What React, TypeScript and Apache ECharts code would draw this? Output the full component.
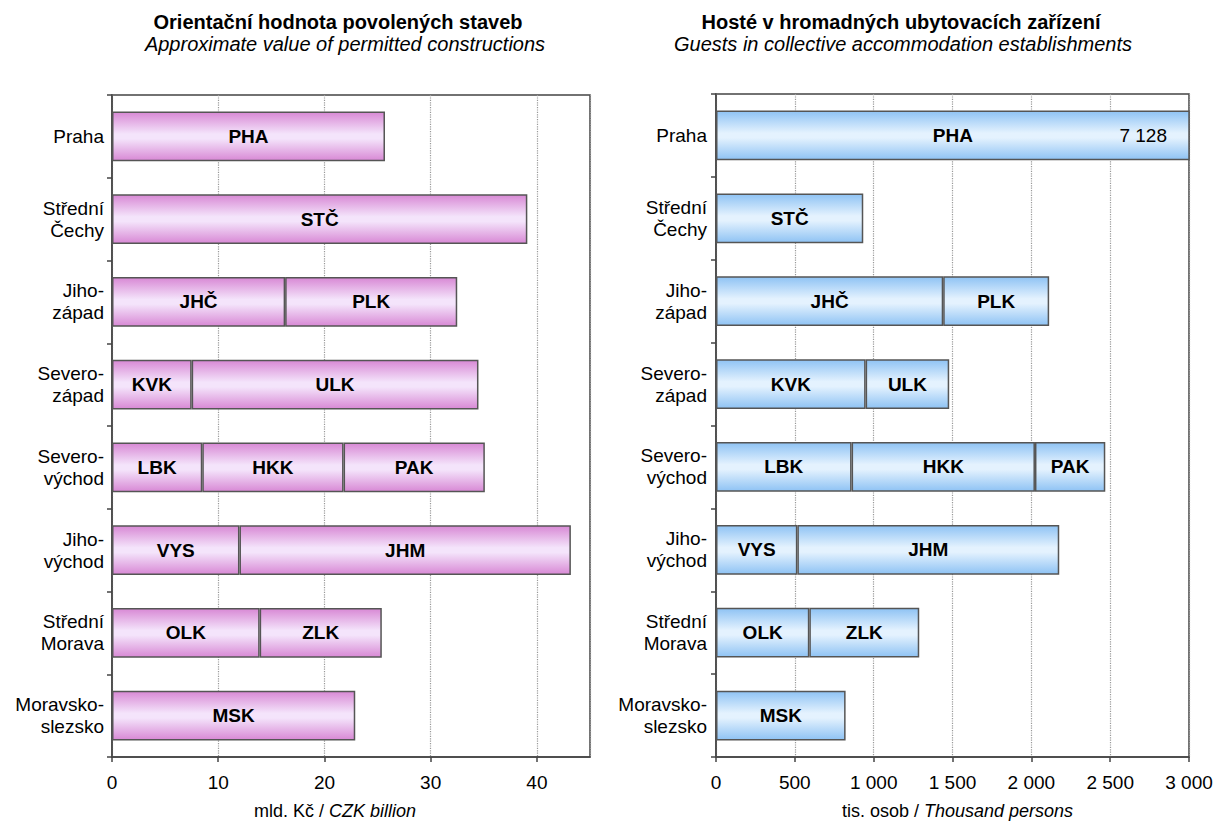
import React, { useEffect, useRef } from 'react';
import * as echarts from 'echarts';

const regions = [
  'Praha',
  'Střední\nČechy',
  'Jiho-\nzápad',
  'Severo-\nzápad',
  'Severo-\nvýchod',
  'Jiho-\nvýchod',
  'Střední\nMorava',
  'Moravsko-\nslezsko',
];

const codes1 = ['PHA', 'STČ', 'JHČ', 'KVK', 'LBK', 'VYS', 'OLK', 'MSK'];
const codes2 = ['', '', 'PLK', 'ULK', 'HKK', 'JHM', 'ZLK', ''];
const codes3 = ['', '', '', '', 'PAK', '', '', ''];

// Orientační hodnota povolených staveb (mld. Kč)
const build1 = [25.7, 39.1, 16.3, 7.5, 8.5, 12.0, 13.9, 22.9];
const build2 = [null, null, 16.2, 27.0, 13.3, 31.2, 11.5, null];
const build3 = [null, null, null, null, 13.3, null, null, null];

// Hosté v HUZ (tis. osob)
const guests1 = [7128, 934, 1441, 949, 860, 516, 592, 822];
const guests2 = [null, null, 672, 530, 1163, 1661, 697, null];
const guests3 = [null, null, null, null, 446, null, null, null];

const leftTicks = { min: 0, max: 45, interval: 10 };
const rightTicks = { min: 0, max: 3000, interval: 500 };

const FONT = "'Liberation Sans', Arial, sans-serif";

const fmtSpace = (v: number) => String(v).replace(/\B(?=(\d{3})+(?!\d))/g, ' ');

const pink = new echarts.graphic.LinearGradient(0, 0, 0, 1, [
  { offset: 0, color: '#d889d5' },
  { offset: 0.45, color: '#f4e4fb' },
  { offset: 0.55, color: '#f4e4fb' },
  { offset: 1, color: '#d889d5' },
]);
const blue = new echarts.graphic.LinearGradient(0, 0, 0, 1, [
  { offset: 0, color: '#8fc3f4' },
  { offset: 0.45, color: '#e4f2fe' },
  { offset: 0.55, color: '#e4f2fe' },
  { offset: 1, color: '#8fc3f4' },
]);

export default function App() {
  const ref = useRef<HTMLDivElement>(null);
  useEffect(() => {
    const chart = echarts.init(ref.current!, null, { renderer: 'svg' });

    const segSeries = (
      idx: number,
      data: (number | null)[],
      codes: string[],
      color: any
    ) => ({
      type: 'bar',
      xAxisIndex: idx,
      yAxisIndex: idx,
      stack: 'reg' + idx,
      data,
      barCategoryGap: '40%',
      itemStyle: { color, borderColor: '#555', borderWidth: 1.5 },
      label: {
        show: true,
        position: 'inside',
        color: '#000',
        fontFamily: FONT,
        fontSize: 19,
        fontWeight: 'bold',
        formatter: (p: any) => codes[p.dataIndex],
      },
      silent: true,
    });

    const catAxis = (idx: number, margin: number) => ({
      type: 'category',
      gridIndex: idx,
      data: regions,
      inverse: true,
      axisLine: { show: true, lineStyle: { color: '#444', width: 1.5 } },
      axisTick: { show: true, length: 5, interval: 0, lineStyle: { color: '#444', width: 1.5 } },
      axisLabel: {
        color: '#000',
        fontFamily: FONT,
        fontSize: 19,
        lineHeight: 22,
        margin,
        align: 'right',
      },
    });

    const valAxis = (idx: number, t: any, name: any, fmt: (v: number) => string, namePad: number[]) => ({
      type: 'value',
      gridIndex: idx,
      min: t.min,
      max: t.max,
      interval: t.interval,
      axisLine: { show: true, lineStyle: { color: '#444', width: 1.5 } },
      axisTick: { show: true, length: 5, lineStyle: { color: '#444', width: 1.5 } },
      axisLabel: {
        color: '#000',
        fontFamily: FONT,
        fontSize: 19,
        margin: 16,
        formatter: fmt,
        showMaxLabel: idx === 1,
      },
      splitLine: { show: true, lineStyle: { color: '#999', type: 'dotted', width: 1.2 } },
      name,
      nameLocation: 'middle',
      nameGap: 45,
      nameTextStyle: {
        color: '#000',
        fontFamily: FONT,
        fontSize: 18,
        padding: namePad,
        rich: {
          it: { fontStyle: 'italic', fontFamily: FONT, fontSize: 18, color: '#000' },
        },
      },
    });

    const option = {
      animation: false,
      backgroundColor: '#fff',
      textStyle: { fontFamily: FONT },
      grid: [
        { left: 112, right: 630, top: 95, bottom: 64, outerBoundsMode: 'none', containLabel: false, show: true, borderColor: '#444', borderWidth: 1.5, backgroundColor: 'transparent' },
        { left: 716, right: 31, top: 94, bottom: 64, outerBoundsMode: 'none', containLabel: false, show: true, borderColor: '#444', borderWidth: 1.5, backgroundColor: 'transparent' },
      ],
      xAxis: [
        valAxis(0, leftTicks, 'mld. Kč / {it|CZK billion}', (v: number) => String(v), [0, 32, 0, 0]),
        valAxis(1, rightTicks, 'tis. osob / {it|Thousand persons}', (v: number) => fmtSpace(v), [0, 0, 0, 10]),
      ],
      yAxis: [catAxis(0, 8), catAxis(1, 9)],
      series: [
        segSeries(0, build1, codes1, pink),
        segSeries(0, build2, codes2, pink),
        segSeries(0, build3, codes3, pink),
        segSeries(1, guests1, codes1, blue),
        segSeries(1, guests2, codes2, blue),
        segSeries(1, guests3, codes3, blue),
        {
          type: 'bar',
          xAxisIndex: 1,
          yAxisIndex: 1,
          data: guests1.map((v) => (v != null && v > rightTicks.max ? v : null)),
          barGap: '-100%',
          barCategoryGap: '40%',
          itemStyle: { color: 'rgba(0,0,0,0)', borderWidth: 0 },
          label: {
            show: true,
            position: 'insideRight',
            distance: 22,
            color: '#000',
            fontFamily: FONT,
            fontSize: 19,
            formatter: (p: any) => fmtSpace(p.value),
          },
          silent: true,
          z: 5,
        },
      ],
      graphic: [
        { type: 'text', x: 338, y: 22, style: { text: 'Orientační hodnota povolených staveb', font: `bold 20px ${FONT}`, fill: '#000', textAlign: 'center', textVerticalAlign: 'middle' } },
        { type: 'text', x: 345, y: 44, style: { text: 'Approximate value of permitted constructions', font: `italic 20px ${FONT}`, fill: '#000', textAlign: 'center', textVerticalAlign: 'middle' } },
        { type: 'text', x: 901, y: 22, style: { text: 'Hosté v hromadných ubytovacích zařízení', font: `bold 20px ${FONT}`, fill: '#000', textAlign: 'center', textVerticalAlign: 'middle' } },
        { type: 'text', x: 903, y: 44, style: { text: 'Guests in collective accommodation establishments', font: `italic 20px ${FONT}`, fill: '#000', textAlign: 'center', textVerticalAlign: 'middle' } },
      ],
    };

    chart.setOption(option as any);
    return () => chart.dispose();
  }, []);
  return (
    <div
      ref={ref}
      style={{ position: 'fixed', left: 0, top: 0, width: 1220, height: 821, background: '#fff' }}
    />
  );
}
